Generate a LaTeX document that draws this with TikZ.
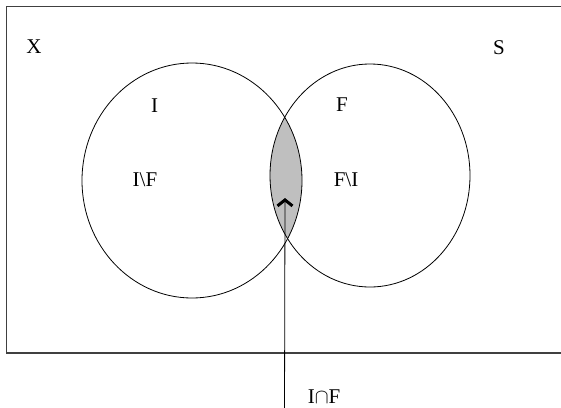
\documentclass[tikz,border=0pt]{standalone}
\usepackage{fontspec}
\setmainfont{Liberation Serif}
\usetikzlibrary{arrows.meta}
\begin{document}
\begin{tikzpicture}[x=1pt,y=-1pt,
  lbl/.style={font=\fontsize{21}{24}\selectfont, inner sep=0pt},
  setline/.style={draw=black, line width=0.8pt},
  framebox/.style={draw=black!75, line width=1.3pt}]
\useasboundingbox (0,0) rectangle (561,407);
% lens
\begin{scope}
  \clip (192,180.5) ellipse [x radius=110, y radius=117.5];
  \fill[black!25] (370,175.5) ellipse [x radius=100, y radius=111.5];
\end{scope}
% frame
\draw[framebox] (575,6.5) -- (6.5,6.5) -- (6.5,353) -- (575,353);
% sets
\draw[setline] (192,180.5) ellipse [x radius=110, y radius=117.5];
\draw[setline] (370,175.5) ellipse [x radius=100, y radius=111.5];
% labels
\node[lbl] (X) at (34,47) {X};
\node[lbl] (S) at (499,48) {S};
\node[lbl] (I) at (154.5,106) {I};
\node[lbl] (F) at (342,105) {F};
\node[lbl] (IF) at (145,180) {I\textbackslash F};
\node[lbl] (FI) at (346,180) {F\textbackslash I};
\node[lbl] (cap) at (324,397) {I$\cap$F};
% arrow
\coordinate (tail) at (284.5,412);
\coordinate (tip) at (285,198);
\draw[line width=0.8pt, -{Straight Barb[length=6pt,width=15pt,line width=3pt]}] (tail) -- (tip);
\end{tikzpicture}
\end{document}
